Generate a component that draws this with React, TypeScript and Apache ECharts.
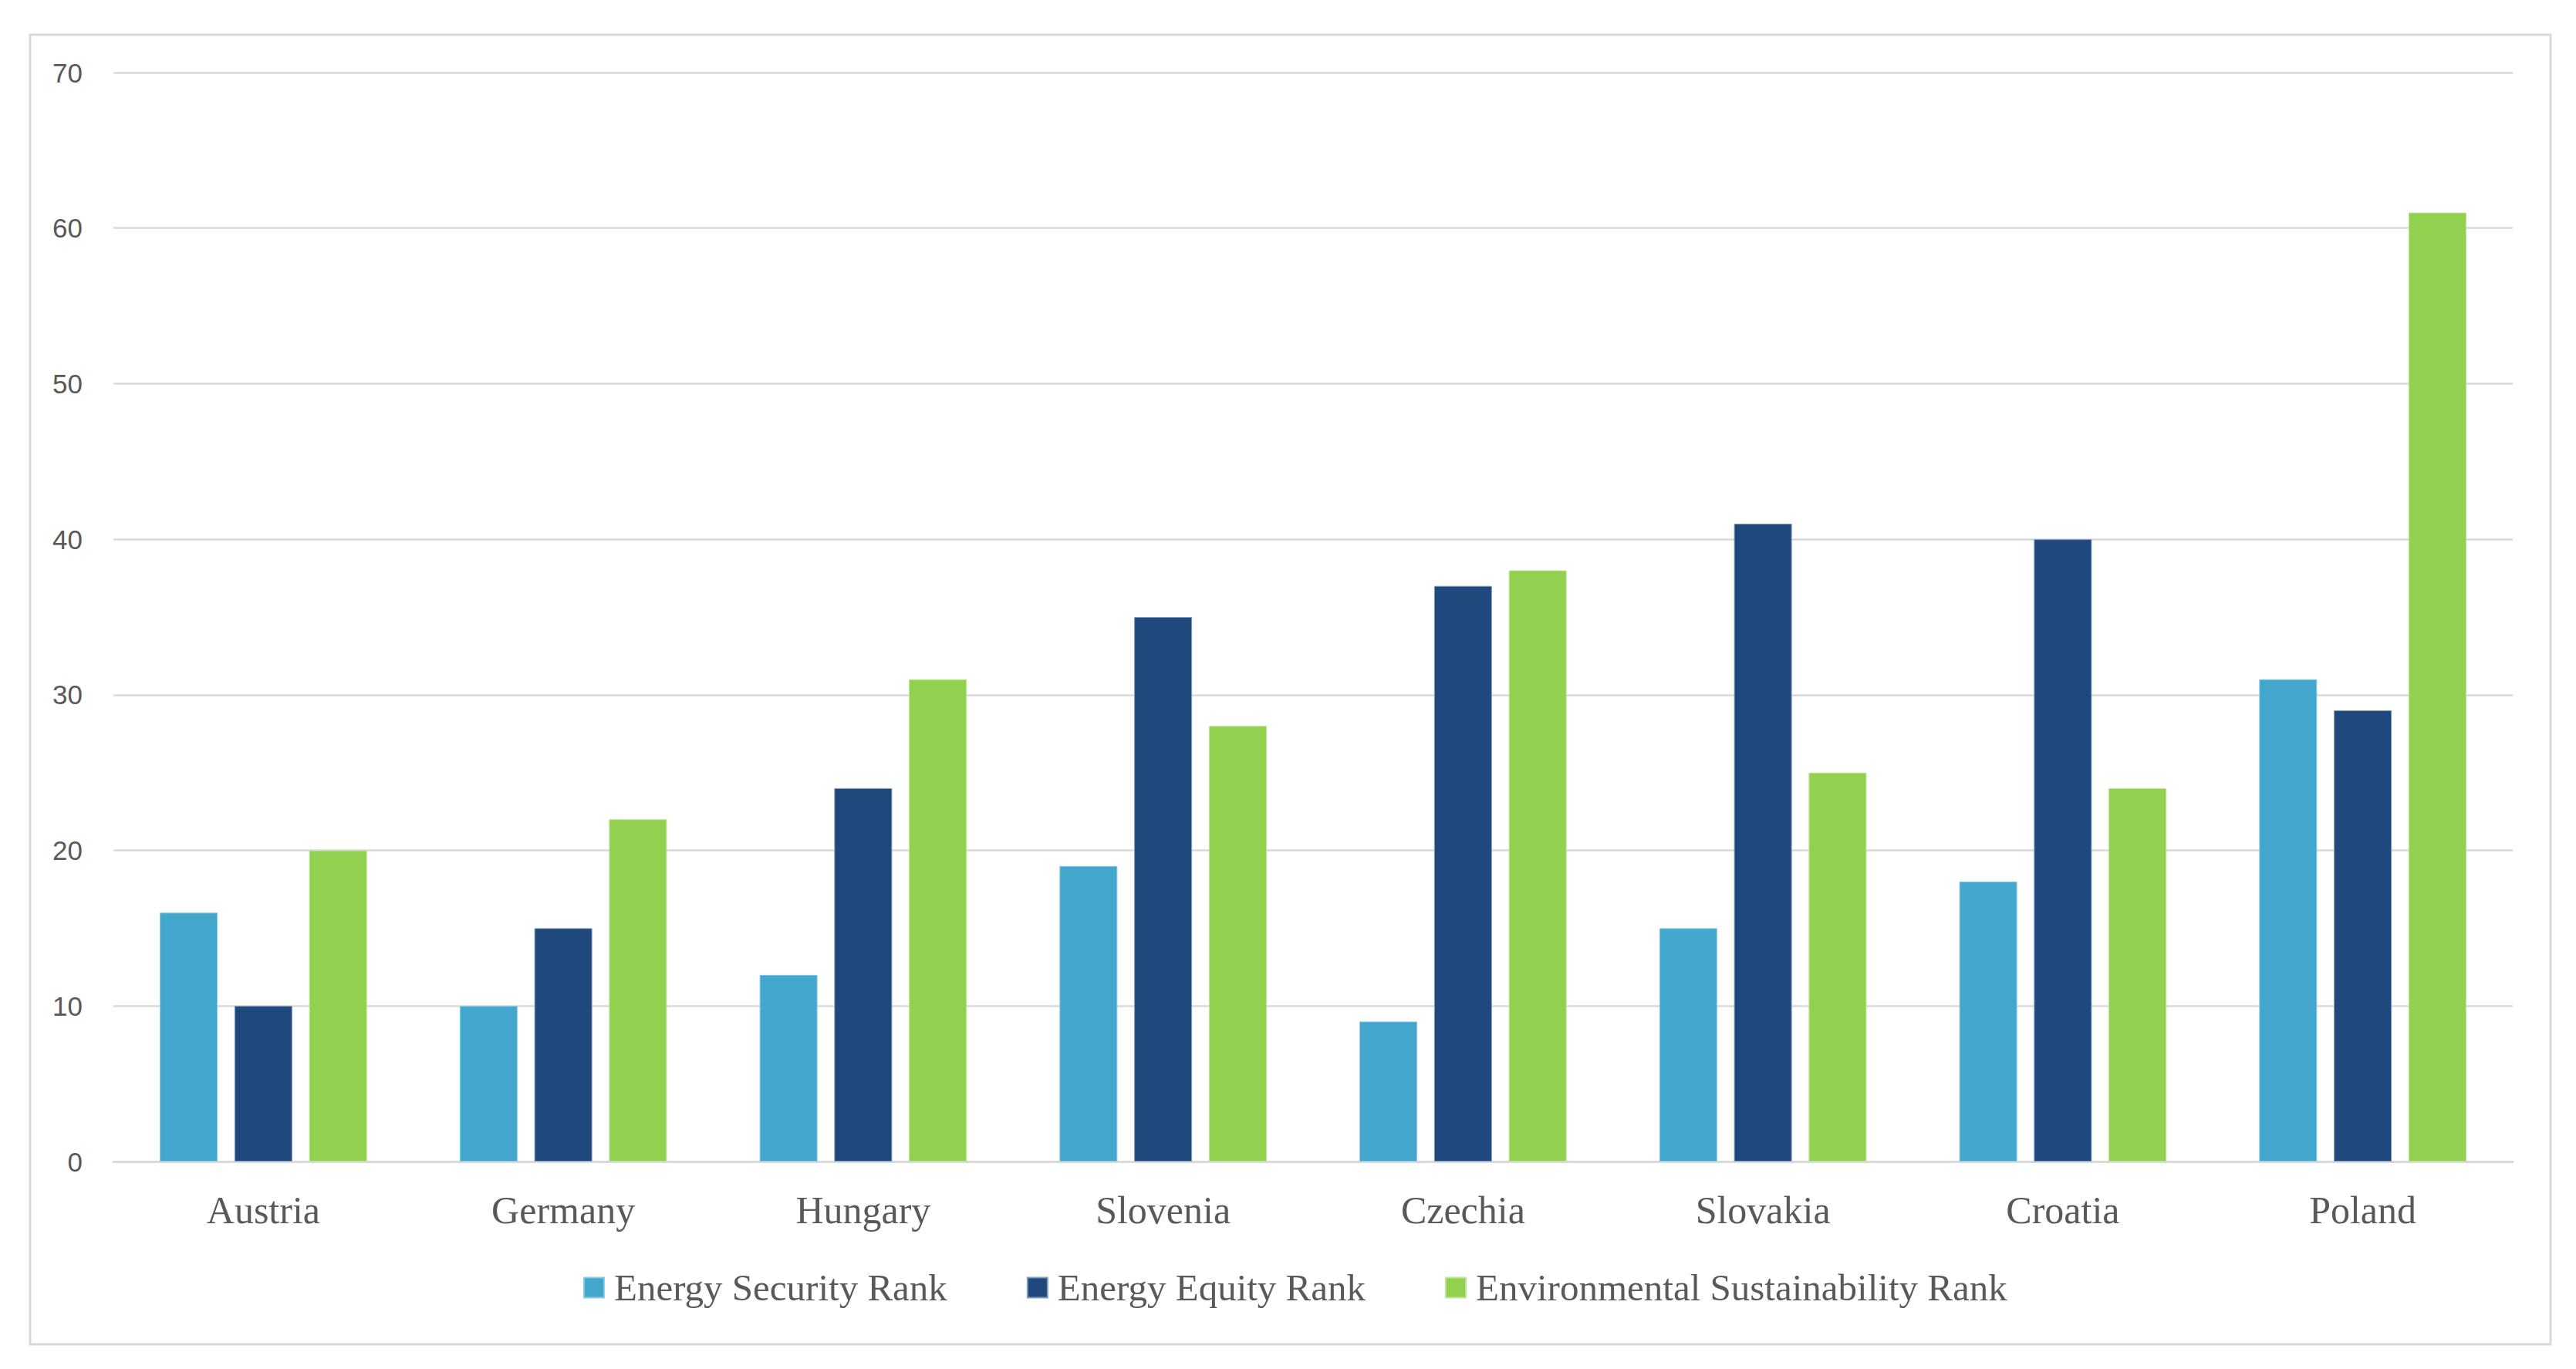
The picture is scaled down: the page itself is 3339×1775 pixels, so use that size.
import React, { useEffect, useRef } from "react";
import * as echarts from "echarts";

const categories = ["Austria", "Germany", "Hungary", "Slovenia", "Czechia", "Slovakia", "Croatia", "Poland"];
const securityRank = [16, 10, 12, 19, 9, 15, 18, 31];
const equityRank = [10, 15, 24, 35, 37, 41, 40, 29];
const sustainabilityRank = [20, 22, 31, 28, 38, 25, 24, 61];
const seriesNames = ["Energy Security Rank", "Energy Equity Rank", "Environmental Sustainability Rank"];
const seriesColors = ["#42A6CD", "#1F487C", "#92D050"];
const borderColors = ["#8CCBE3", "#7F9CC0", "#BDE597"];

export default function App() {
  const ref = useRef<HTMLDivElement>(null);
  useEffect(() => {
    if (!ref.current) return;
    const chart = echarts.init(ref.current, null, { renderer: "svg" });
    const data = [securityRank, equityRank, sustainabilityRank];
    chart.setOption({
      animation: false,
      backgroundColor: "#ffffff",
      graphic: [
        {
          type: "rect",
          shape: { x: 39, y: 45, width: 3267, height: 1698 },
          style: { fill: "none", stroke: "#D9D9D9", lineWidth: 3 },
          silent: true,
        },
      ],
      grid: { left: 147, right: 82, top: 94, bottom: 269, containLabel: false },
      legend: {
        data: seriesNames,
        top: 1640,
        left: 751,
        icon: "rect",
        itemWidth: 26,
        itemHeight: 26,
        itemGap: 103,
        textStyle: {
          fontFamily: "Liberation Serif",
          fontSize: 49,
          color: "#595959",
          padding: [0, 0, 0, 8],
        },
      },
      xAxis: {
        type: "category",
        data: categories,
        axisLine: { show: true, lineStyle: { color: "#D9D9D9", width: 3 } },
        axisTick: { show: false },
        axisLabel: {
          fontFamily: "Liberation Serif",
          fontSize: 50,
          color: "#595959",
          margin: 38,
        },
      },
      yAxis: {
        type: "value",
        min: 0,
        max: 70,
        interval: 10,
        axisLine: { show: false },
        axisTick: { show: false },
        splitLine: { lineStyle: { color: "#D9D9D9", width: 2.5 } },
        axisLabel: {
          fontFamily: "Liberation Sans",
          fontSize: 35,
          color: "#595959",
          margin: 40,
        },
      },
      series: seriesNames.map((name, i) => ({
        name,
        type: "bar",
        data: data[i],
        barWidth: "19.3%",
        barGap: "29%",
        itemStyle: { color: seriesColors[i], borderColor: borderColors[i], borderWidth: 1 },
      })),
    });
    return () => chart.dispose();
  }, []);
  return (
    <div
      ref={ref}
      style={{ position: "fixed", left: 0, top: 0, width: 3339, height: 1775 }}
    />
  );
}
